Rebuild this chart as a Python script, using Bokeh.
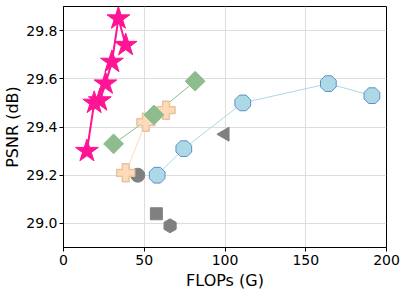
import math
from bokeh.plotting import figure
from bokeh.embed import file_html
from bokeh.resources import INLINE
from bokeh.models import Range1d, FixedTicker, CustomJSTickFormatter

# data
star_x = [14.5, 19, 22.5, 26, 30, 34, 38.5]
star_y = [29.30, 29.50, 29.51, 29.58, 29.67, 29.85, 29.74]
dia_x = [31, 56, 81.5]
dia_y = [29.33, 29.45, 29.59]
plus_x = [38.5, 51, 63.5]
plus_y = [29.21, 29.42, 29.47]
oct_x = [58, 74.5, 111, 164, 191]
oct_y = [29.20, 29.31, 29.50, 29.58, 29.53]
gc_x, gc_y = [46], [29.20]
gs_x, gs_y = [57.5], [29.04]
gh_x, gh_y = [66], [28.99]
gt_x, gt_y = [100], [29.37]
x_ticks = [0, 50, 100, 150, 200]
y_ticks = [29.0, 29.2, 29.4, 29.6, 29.8]

p = figure(width=407, height=293, output_backend="svg", toolbar_location=None,
           x_range=Range1d(0, 200), y_range=Range1d(28.9, 29.9),
           min_border_left=63, min_border_right=21, min_border_top=6, min_border_bottom=46)

p.outline_line_color = "black"
p.outline_line_width = 1
p.xaxis.ticker = FixedTicker(ticks=x_ticks)
p.yaxis.ticker = FixedTicker(ticks=y_ticks)
p.yaxis.formatter = CustomJSTickFormatter(code="return tick.toFixed(1);")
for ax in (p.xaxis, p.yaxis):
    ax.major_label_text_font = "DejaVu Sans"
    ax.major_label_text_font_size = "14px"
    ax.major_label_text_color = "black"
    ax.axis_label_text_font = "DejaVu Sans"
    ax.axis_label_text_font_size = "16px"
    ax.axis_label_text_font_style = "normal"
    ax.axis_label_text_color = "black"
    ax.axis_line_color = "black"
    ax.major_tick_line_color = "black"
    ax.major_tick_out = 4
    ax.major_tick_in = 0
    ax.minor_tick_line_color = None
    ax.major_label_standoff = 3
    ax.axis_label_standoff = 3
p.yaxis.major_label_standoff = 2
p.yaxis.axis_label_standoff = 1
p.xaxis.axis_label = "FLOPs (G)"
p.yaxis.axis_label = "PSNR (dB)"
p.xgrid.grid_line_color = "#dddddd"
p.ygrid.grid_line_color = "#dddddd"

# lines
p.line(oct_x, oct_y, line_color="#ADD8E6", line_width=1)
p.line(plus_x, plus_y, line_color="#FFDAB9", line_width=1)
p.line(dia_x, dia_y, line_color="#8FBC8F", line_width=1)
p.line(star_x, star_y, line_color="#FF1493", line_width=2)

# gray markers
p.scatter(gc_x, gc_y, marker="circle", size=14, fill_color="#808080", line_color="#808080")
p.scatter(gs_x, gs_y, marker="square", size=12, fill_color="#808080", line_color="#808080")
p.scatter(gh_x, gh_y, marker="hex", size=14, angle=math.pi / 2, fill_color="#808080", line_color="#808080")
p.scatter(gt_x, gt_y, marker="triangle", size=14, angle=math.pi / 2, fill_color="#808080", line_color="#808080")

# octagons
try:
    p.ngon(oct_x, oct_y, radius=8.5, radius_units="screen", n=8, angle=math.pi / 8,
           fill_color="#ADD8E6", line_color="#5B8FC8", line_width=1)
except Exception:
    p.scatter(oct_x, oct_y, marker="circle", size=16, fill_color="#ADD8E6", line_color="#5B8FC8")

p.scatter(plus_x, plus_y, marker="plus", size=18, fill_color="#FFDAB9", line_color="#E8C39E", line_width=1.5)
p.scatter(dia_x, dia_y, marker="square", size=14, angle=math.pi / 4, fill_color="#8FBC8F", line_color="#8FBC8F")
p.scatter(star_x, star_y, marker="star", size=24, fill_color="#FF1493", line_color="#FF1493")

open("out.html", "w").write(file_html(p, INLINE))
